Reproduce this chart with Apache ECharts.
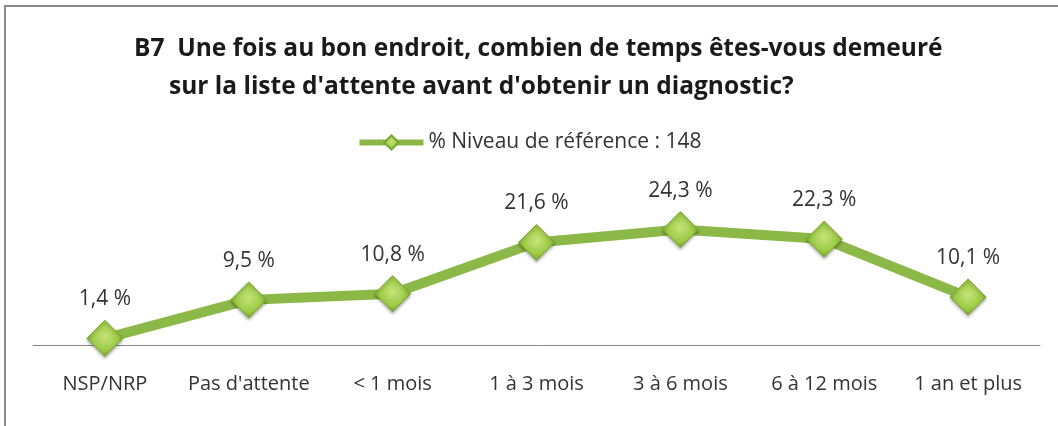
<!DOCTYPE html>
<html>
<head>
<meta charset="utf-8">
<script src="https://cdn.jsdelivr.net/npm/echarts@6/dist/echarts.min.js"></script>
<style>
  html, body { margin: 0; padding: 0; background: #fff; }
</style>
</head>
<body>
<div id="chart" style="width: 1058px;height: 426px"></div>
<script>
const categories = ['NSP/NRP', "Pas d'attente", '< 1 mois', '1 à 3 mois', '3 à 6 mois', '6 à 12 mois', '1 an et plus'];
const values = [1.4, 9.5, 10.8, 21.6, 24.3, 22.3, 10.1];
const seriesName = '% Niveau de référence : 148';
const titleLine1 = "B7  Une fois au bon endroit, combien de temps êtes-vous demeuré";
const titleLine2 = "sur la liste d'attente avant d'obtenir un diagnostic?";

const font = "'Open Sans', sans-serif";

const chart = echarts.init(document.getElementById('chart'));

let option = {
  animation: false,
  backgroundColor: '#fff',
  graphic: [
    {
      type: 'rect',
      shape: {x: 5, y: 6, width: 1200, height: 600},
      style: {fill: 'none', stroke: '#8a8a8a', lineWidth: 2},
      silent: true
    }
  ],
  title: [
    {
      text: titleLine1,
      left: 129,
      top: 32,
      textStyle: {fontFamily: font, fontWeight: 'bold', fontSize: 24.5, color: '#1a1a1a'}
    },
    {
      text: titleLine2,
      left: 164,
      top: 70,
      textStyle: {fontFamily: font, fontWeight: 'bold', fontSize: 24.5, color: '#1a1a1a'}
    }
  ],
  legend: {
    data: [seriesName],
    top: 127,
    left: 'center',
    itemWidth: 64,
    itemHeight: 18,
    itemGap: 4,
    lineStyle: {width: 6},
    textStyle: {fontFamily: font, fontSize: 21, color: '#333'}
  },
  grid: {
    left: 33,
    right: 18,
    top: 155,
    bottom: 81
  },
  xAxis: {
    type: 'category',
    data: categories,
    boundaryGap: true,
    axisLine: {lineStyle: {color: '#888', width: 1}},
    axisTick: {show: false},
    axisLabel: {
      interval: 0,
      margin: 29,
      fontFamily: font,
      fontSize: 20,
      color: '#333'
    }
  },
  yAxis: {
    type: 'value',
    min: 0,
    max: 40,
    show: false,
    splitLine: {show: false}
  },
  series: [
    {
      name: seriesName,
      type: 'line',
      data: values,
      symbol: 'diamond',
      symbolSize: 36,
      lineStyle: {color: '#8cb848', width: 10},
      itemStyle: {
        color: new echarts.graphic.RadialGradient(0.5, 0.45, 0.6, [
          {offset: 0, color: '#c5e27a'},
          {offset: 0.6, color: '#9ccb45'},
          {offset: 1, color: '#6f9a2a'}
        ]),
        borderColor: '#7aa434',
        borderWidth: 1,
        shadowColor: 'rgba(0,0,0,0.3)',
        shadowBlur: 3,
        shadowOffsetY: 2
      },
      label: {
        show: true,
        position: 'top',
        distance: 10,
        fontFamily: font,
        fontSize: 21,
        color: '#333',
        formatter: function (p) {
          return String(p.value).replace('.', ',') + ' %';
        }
      }
    }
  ]
};

chart.setOption(option);
</script>
</body>
</html>
